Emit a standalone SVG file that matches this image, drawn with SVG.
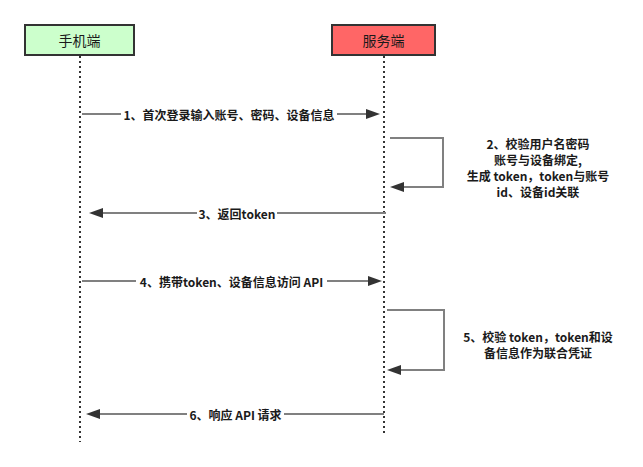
<svg xmlns="http://www.w3.org/2000/svg" width="643" height="467" viewBox="0 0 643 467">
<style>
text{font-family:"Noto Sans CJK SC","Microsoft YaHei",sans-serif;fill:#1a1a1a;}
.box{stroke:#333;stroke-width:2;}
.nlabel{font-size:14px;text-anchor:middle;dominant-baseline:central;}
.life{stroke:#333;stroke-width:2;stroke-dasharray:2 3;fill:none;}
.msg{stroke:#808080;stroke-width:2;fill:none;}
.head{fill:#333;stroke:none;}
.lbl{font-size:12px;font-weight:bold;text-anchor:middle;dominant-baseline:central;}
.bg{fill:#fff;}
</style>
<rect width="643" height="467" fill="#fff"/>
<g id="phone">
<rect class="box" x="25" y="25" width="109" height="30" fill="#CCFFCC"/>
<text class="nlabel" x="79.5" y="40">手机端</text>
<line class="life" x1="80" y1="56" x2="80" y2="442"/>
</g>
<g id="server">
<rect class="box" x="332" y="25" width="103" height="30" fill="#FF6666"/>
<text class="nlabel" x="383.5" y="40">服务端</text>
<line class="life" x1="384" y1="56" x2="384" y2="434"/>
</g>
<g id="connectors">
<g id="m1">
<line class="msg" x1="82" y1="114" x2="367" y2="114"/>
<polygon class="head" points="366,109 380,114 366,119"/>
<rect class="bg" x="121" y="106" width="216" height="16"/>
<text class="lbl" x="229" y="114">1、首次登录输入账号、密码、设备信息</text>
</g>
<g id="m2">
<polyline class="msg" points="390,138 443,138 443,187 403,187"/>
<polygon class="head" points="404,182 390,187 404,192"/>
<text class="lbl" x="538" y="143">2、校验用户名密码</text>
<text class="lbl" x="538" y="159">账号与设备绑定,</text>
<text class="lbl" x="538" y="175">生成 token，token与账号</text>
<text class="lbl" x="538" y="191">id、设备id关联</text>
</g>
<g id="m3">
<line class="msg" x1="386" y1="213" x2="102" y2="213"/>
<polygon class="head" points="103,208 89,213 103,218"/>
<rect class="bg" x="197" y="205" width="80" height="16"/>
<text class="lbl" x="237" y="213">3、返回token</text>
</g>
<g id="m4">
<line class="msg" x1="82" y1="281" x2="369" y2="281"/>
<polygon class="head" points="368,276 382,281 368,286"/>
<rect class="bg" x="136" y="273" width="191" height="16"/>
<text class="lbl" x="231.5" y="281">4、携带token、设备信息访问 API</text>
</g>
<g id="m5">
<polyline class="msg" points="387,310 444,310 444,370 400,370"/>
<polygon class="head" points="401,365 387,370 401,375"/>
<text class="lbl" x="538" y="336">5、校验 token，token和设</text>
<text class="lbl" x="538" y="352">备信息作为联合凭证</text>
</g>
<g id="m6">
<line class="msg" x1="384" y1="414" x2="99" y2="414"/>
<polygon class="head" points="100,409 86,414 100,419"/>
<rect class="bg" x="187" y="406" width="97" height="16"/>
<text class="lbl" x="235.5" y="414">6、响应 API 请求</text>
</g>
</g>
</svg>
